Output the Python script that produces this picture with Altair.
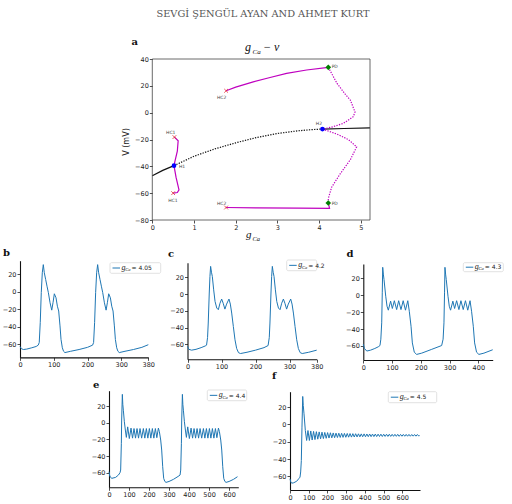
import altair as alt
import pandas as pd

W, H = 512, 504
BLUE = "#1f77b4"
MAG = "#bf00bf"

HEADER = "SEVGİ ŞENGÜL AYAN AND AHMET KURT"

# ---------------- panel a : bifurcation diagram (g_Ca, V) ----------------
a_black_solid1 = [(0, -47), (0.25, -43), (0.52, -39.5)]
a_black_dotted = [(0.52, -39.5), (1.0, -32.5), (1.5, -27), (2.0, -22.5), (2.5, -18.5),
                  (3.0, -15.5), (3.5, -13.5), (3.8, -12.7), (4.08, -12.2)]
a_black_solid2 = [(4.08, -12.2), (4.6, -11.8), (5.22, -11.3)]
a_mag_upper = [(1.77, 16.3), (2.0, 19), (2.42, 23), (2.8, 26), (3.22, 29.3), (3.7, 31.8), (4.22, 33.8)]
a_mag_dot_up = [(4.22, 33.8), (4.43, 21.8), (4.62, 14), (4.75, 9.3), (4.86, 0.5), (4.82, -3),
                (4.58, -8), (4.3, -10.8), (4.08, -12.2)]
a_mag_dot_low = [(4.08, -12.2), (4.43, -16), (4.7, -20), (4.9, -25.5), (4.75, -35), (4.5, -45.8),
                 (4.3, -55.6), (4.22, -64), (4.22, -67.3)]
a_mag_lower = [(4.22, -67.3), (4.25, -71.4), (3.5, -71.2), (2.5, -71.0), (1.77, -70.7)]
a_mag_left = [(0.53, -18.2), (0.62, -20.9), (0.6, -28.7), (0.545, -36), (0.52, -39.5),
              (0.57, -48.3), (0.64, -57.5), (0.6, -59.5), (0.5, -60)]
a_blue_pts = [(0.52, -39.5), (4.08, -12.2)]
a_green_pts = [(4.22, 33.8), (4.22, -67.3)]
a_red_pts = [(1.77, 16.3), (1.77, -70.7), (0.53, -18.2), (0.5, -60)]
a_labels = [("H1", 0.64, -40.5), ("H2", 3.92, -8.2), ("PD", 4.3, 34.3), ("PD", 4.3, -67.8),
            ("HC2", 1.55, 11.0), ("HC2", 1.55, -67.8), ("HC1", 0.33, -15.5), ("HC1", 0.38, -65.5)]

# ---------------- panels b-f : time series ----------------
b_pts = [(0, -62.5), (4, -65), (10, -66), (20, -65.5), (35, -64), (48, -62.5), (54, -61), (57, -58),
         (60, -35), (63, -1), (66, 21.7), (69, 31), (72, 21.7), (76, 14), (80, 6.4), (84, -1),
         (89, -12.6), (94, -21), (98, -12), (101.7, -2.3), (106.7, -6.9), (110.7, -16.5),
         (114.6, -22), (118.5, -39), (121.5, -54.5), (125.4, -64), (129, -68), (133, -69.5),
         (150, -68), (175, -66), (200, -63.5), (215, -61),
         (218, -58), (221, -35), (224, -1), (227, 21.7), (230, 31), (233, 21.7), (237, 14),
         (241, 6.4), (245, -1), (250, -12.6), (255, -21), (259, -12), (262.7, -2.3),
         (267.7, -6.9), (271.7, -16.5), (275.6, -22), (279.5, -39), (282.5, -54.5),
         (286.4, -64), (290, -68), (294, -69.5), (311, -68), (336, -66), (361, -63.5), (380, -60.5)]

c_pts = [(0, -62.5), (4, -66), (12, -67), (25, -66), (40, -64), (52, -62), (56, -61), (59, -52),
         (61, -34.6), (64, 1.2), (66, 21), (68, 33), (70.5, 26), (73, 21), (77, 5), (81, -8.8),
         (86, -16.7), (90.7, -18.7), (95.5, -11), (100.5, -6), (105, -11), (110, -18), (115, -12),
         (122, -6), (126, -12), (130, -22.7), (134.8, -38.7), (139.7, -54.6), (144.6, -65),
         (150, -70), (156, -71), (175, -69.5), (200, -67), (225, -64), (237, -61.5),
         (240.5, -52), (242.5, -34.6), (245.5, 1.2), (247.5, 21), (249.5, 33), (252, 26),
         (254.5, 21), (258.5, 5), (262.5, -8.8), (267.5, -16.7), (272.2, -18.7), (277, -11),
         (282, -6), (286.5, -11), (291.5, -18), (296.5, -12), (303.5, -6), (307.5, -12),
         (311.5, -22.7), (316.3, -38.7), (321.2, -54.6), (326.1, -65), (331.5, -70),
         (337.5, -71), (356.5, -69.5), (380, -67)]

d_pts = [(0, -58), (4, -63), (12, -66), (25, -65), (40, -63), (52, -61), (58, -59.5), (61, -52),
         (64, -32.7), (66, 2.8), (67.5, 33), (70, 24), (72, 18.6), (78, -1.2), (82.5, -13),
         (87, -17.7), (95, -7), (101, -15.7), (108, -6.5), (116, -17), (123, -6.5), (131, -17),
         (138.7, -6.5), (146.7, -17.7), (154.7, -6.5), (160, -19), (166, -36.7), (170.6, -56.4),
         (177.4, -67.4), (185.5, -70), (203, -68.5), (238, -64), (272.5, -59.5),
         (277.5, -52), (280.5, -32.7), (282.5, 2.8), (284, 33), (286.5, 24), (288.5, 18.6),
         (294.5, -1.2), (299, -13), (303.5, -17.7), (311.5, -7), (317.5, -15.7), (324.5, -6.5),
         (332.5, -17), (339.5, -6.5), (347.5, -17), (355.2, -6.5), (363.2, -17.7), (371.2, -6.5),
         (376.5, -19), (382.5, -36.7), (387.1, -56.4), (393.9, -67.4), (402, -70),
         (419.5, -68.5), (450, -64.5)]

e_pts = [(0, -58.8), (4, -64), (13, -66.8), (33, -65.6), (47, -62.8), (55, -60), (58.3, -56.8),
         (61.7, -24.7), (63.3, 3.2), (66.7, 34), (69, 22), (71.7, 15), (76.7, 1.2), (81.7, -8.8),
         (86.7, -17.6), (93.3, -5), (101.5, -19), (110, -6.5), (117.5, -18.5), (125, -7),
         (132.5, -18.5), (140, -7), (147.5, -18.5), (155, -7), (163, -18.5), (171.7, -7),
         (179, -18.5), (186.7, -7), (194, -18.5), (201.7, -7), (209, -18.5), (216.7, -7),
         (224, -18.5), (231.7, -7), (239, -18), (246.7, -6.5), (251.7, -10.8), (258.3, -20.8),
         (263.3, -32.8), (268.3, -52.8), (273.3, -66.8), (279, -70.5), (285, -71.6), (300, -70.5),
         (321.7, -68), (345, -64.5), (355, -62.8),
         (358.3, -56.8), (361.7, -24.7), (363.3, 3.2), (366.7, 34), (369, 22), (371.7, 15),
         (376.7, 1.2), (381.7, -8.8), (386.7, -17.6), (393.3, -5), (401.5, -19), (410, -6.5),
         (417.5, -18.5), (425, -7), (432.5, -18.5), (440, -7), (447.5, -18.5), (455, -7),
         (463, -18.5), (471.7, -7), (479, -18.5), (486.7, -7), (494, -18.5), (501.7, -7),
         (509, -18.5), (516.7, -7), (524, -18.5), (531.7, -7), (539, -18), (546.7, -6.5),
         (551.7, -10.8), (558.3, -20.8), (563.3, -32.8), (568.3, -52.8), (573.3, -66.8),
         (579, -70.5), (585, -71.6), (600, -70.5), (621.7, -68), (642, -64.8)]

f_pts = [(0, -63), (4, -66.5), (9, -68), (20, -67.5), (36, -65.7), (48, -62.5), (53.5, -61),
         (57, -55), (60.6, -41.7), (64, -3.1), (68, 32.5), (71, 22), (74.9, 12.4), (82, -7),
         (89, -18.5), (96, -7), (103.5, -18.5), (111, -7.5), (118.5, -18), (126, -8),
         (133.5, -17.5), (141, -8.3), (148.5, -17), (156, -8.6), (163.5, -16.6), (171, -8.9),
         (178.5, -16.3), (186, -9.2), (193.5, -16), (201, -9.4), (208.5, -15.7), (216, -9.6),
         (223.5, -15.5), (231, -9.8), (238.5, -15.3), (246, -10), (253.5, -15.1), (261, -10.1),
         (268.5, -15), (276, -10.2), (283.5, -14.9), (291, -10.3), (298.5, -14.8), (306, -10.4),
         (313.5, -14.7), (321, -10.5), (328.5, -14.6), (336, -10.6), (343.5, -14.5), (351, -10.7),
         (358.5, -14.4), (366, -10.8), (373.5, -14.3), (381, -10.9), (388.5, -14.2), (396, -10.9),
         (403.5, -14.2), (411, -11), (418.5, -14.1), (426, -11), (433.5, -14.1), (441, -11.1),
         (448.5, -14), (456, -11.1), (463.5, -14), (471, -11.2), (478.5, -13.9), (486, -11.2),
         (493.5, -13.9), (501, -11.3), (508.5, -13.8), (516, -11.3), (523.5, -13.8), (531, -11.3),
         (538.5, -13.8), (546, -11.4), (553.5, -13.7), (561, -11.4), (568.5, -13.7), (576, -11.4),
         (583.5, -13.7), (591, -11.5), (598.5, -13.6), (606, -11.5), (613.5, -13.6), (621, -11.5),
         (628.5, -13.6), (636, -11.5), (643.5, -13.6), (651, -11.6), (658.5, -13.5), (666, -11.6),
         (673.5, -13.5), (681, -11.6), (688.5, -13.5), (692, -12.5)]

legend_values = ["4.05", "4.2", "4.3", "4.4", "4.5"]
ts_xticks_short = [0, 100, 200, 300, 380]
ts_xticks_d = [0, 100, 200, 300, 400]
ts_xticks_long = [0, 100, 200, 300, 400, 500, 600]
ts_yticks = [-60, -40, -20, 0, 20]
a_xticks = [0, 1, 2, 3, 4, 5]
a_yticks = [-80, -60, -40, -20, 0, 20, 40]

ONE = alt.Data(values=[{"k": 0}])


def frame(pts, xn, yn):
    return pd.DataFrame({"i": list(range(len(pts))),
                         xn: [p[0] for p in pts], yn: [p[1] for p in pts]})


def txt(s, x, y, size, font="DejaVu Sans", style="normal", weight="normal",
        color="#222", align="left", angle=0, baseline="alphabetic"):
    return alt.Chart(ONE).mark_text(
        text=s, fontSize=size, font=font, fontStyle=style, fontWeight=weight,
        color=color, align=align, baseline=baseline, angle=angle
    ).encode(x=alt.value(x), y=alt.value(y))


# ---------- panel a ----------
AX = dict(domain=[0, 5.22], range=[152.3, 370])
AY = dict(domain=[-80, 40], range=[220, 59])


def a_enc():
    ax_x = alt.Axis(orient="bottom", offset=AY["range"][0] - H, values=a_xticks, title=None,
                    labelFontSize=6.5, tickSize=3, labelPadding=1, domain=False,
                    labelFlush=False, labelOverlap=False, format="d")
    ax_y = alt.Axis(orient="left", offset=-AX["range"][0], values=a_yticks, title=None,
                    labelFontSize=6.5, tickSize=3, labelPadding=1, domain=False,
                    labelOverlap=False, format="d")
    return dict(
        x=alt.X("g:Q", scale=alt.Scale(domain=AX["domain"], range=AX["range"], nice=False, zero=False), axis=ax_x),
        y=alt.Y("v:Q", scale=alt.Scale(domain=AY["domain"], range=AY["range"], nice=False, zero=False), axis=ax_y),
    )


def a_line(pts, color, dash=None, width=1.2):
    kw = dict(color=color, strokeWidth=width)
    if dash:
        kw["strokeDash"] = dash
    return alt.Chart(frame(pts, "g", "v")).mark_line(**kw).encode(order="i:Q", **a_enc())


lbl_df = pd.DataFrame({"lab": [l[0] for l in a_labels], "g": [l[1] for l in a_labels],
                       "v": [l[2] for l in a_labels]})

panel_a = alt.layer(
    a_line(a_black_solid1, "#111"),
    a_line(a_black_dotted, "#111", dash=[1.3, 1.3]),
    a_line(a_black_solid2, "#111"),
    a_line(a_mag_upper, MAG),
    a_line(a_mag_dot_up, MAG, dash=[1.3, 1.3]),
    a_line(a_mag_dot_low, MAG, dash=[1.3, 1.3]),
    a_line(a_mag_lower, MAG),
    a_line(a_mag_left, MAG),
    alt.Chart(frame(a_blue_pts, "g", "v")).mark_point(shape="circle", filled=True, color="#0000ff",
                                                       size=22, opacity=1).encode(**a_enc()),
    alt.Chart(frame(a_green_pts, "g", "v")).mark_point(shape="diamond", filled=True, color="#008000",
                                                        size=32, opacity=1).encode(**a_enc()),
    alt.Chart(frame(a_red_pts, "g", "v")).mark_point(shape="M-1,-1L1,1M-1,1L1,-1", filled=False,
                                                      color="#e0303a", size=14, strokeWidth=0.8,
                                                      opacity=1).encode(**a_enc()),
    alt.Chart(lbl_df).mark_text(fontSize=4.5, color="#444", align="left", baseline="middle",
                                font="DejaVu Sans").encode(text="lab:N", **a_enc()),
)

a_frame = alt.Chart(ONE).mark_rect(fillOpacity=0, stroke="#444", strokeWidth=0.8).encode(
    x=alt.value(AX["range"][0]), x2=alt.value(AX["range"][1]),
    y=alt.value(AY["range"][1]), y2=alt.value(AY["range"][0]))


# ---------- time-series panels ----------
def ts_panel(pts, xdom, xr, ydom, yr, xticks):
    x = alt.X("t:Q", scale=alt.Scale(domain=xdom, range=xr, nice=False, zero=False),
              axis=alt.Axis(orient="bottom", offset=yr[0] - H, values=xticks, title=None,
                            labelFontSize=6.5, tickSize=3, labelPadding=1, domainColor="#111",
                            domainWidth=1.1, labelFlush=False, labelOverlap=False, format="d"))
    y = alt.Y("v:Q", scale=alt.Scale(domain=ydom, range=yr, nice=False, zero=False),
              axis=alt.Axis(orient="left", offset=-xr[0], values=ts_yticks, title=None,
                            labelFontSize=6.5, tickSize=3, labelPadding=1, domainColor="#111",
                            domainWidth=1.1, labelOverlap=False, format="d"))
    return alt.Chart(frame(pts, "t", "v")).mark_line(color=BLUE, strokeWidth=1).encode(x=x, y=y)


def legend(x0, y0, x1, y1, value):
    ym = (y0 + y1) / 2
    return [
        alt.Chart(ONE).mark_rect(fill="white", stroke="#cfcfcf", strokeWidth=0.6, cornerRadius=1.5).encode(
            x=alt.value(x0), x2=alt.value(x1), y=alt.value(y0), y2=alt.value(y1)),
        alt.Chart(ONE).mark_rule(color=BLUE, strokeWidth=1).encode(
            x=alt.value(x0 + 2.5), x2=alt.value(x0 + 10), y=alt.value(ym)),
        txt("g", x0 + 11.5, ym + 1.8, 8, font="Liberation Serif", style="italic", color="#222"),
        txt("Ca", x0 + 15.3, ym + 3.2, 4.5, font="Liberation Serif", style="italic", color="#222"),
        txt("= " + value, x0 + 21.5, ym + 2.2, 6, color="#222"),
    ]


panel_b = ts_panel(b_pts, [0, 380], [20, 148.3], [-75, 35.5], [357.4, 260.7], ts_xticks_short)
panel_c = ts_panel(c_pts, [0, 380], [187.5, 316.7], [-77.9, 37.4], [359.3, 262.7], ts_xticks_short)
panel_d = ts_panel(d_pts, [0, 450], [363.3, 492.7], [-76.6, 36.9], [360, 264], ts_xticks_d)
panel_e = ts_panel(e_pts, [0, 646], [109, 238.3], [-77.5, 38.4], [487.3, 390.7], ts_xticks_long)
panel_f = ts_panel(f_pts, [0, 695], [290, 420], [-75.9, 38], [490, 391.7], ts_xticks_long)

annotations = [
    txt(HEADER, 263, 16.7, 9.8, font="DejaVu Serif", color="#555", align="center"),
    txt("a", 131.5, 45, 10, font="DejaVu Serif", weight="bold", color="#111"),
    txt("g", 245, 50.7, 12, font="Liberation Serif", style="italic", color="#111"),
    txt("Ca", 252.5, 54, 7, font="Liberation Serif", style="italic", color="#111"),
    txt("\u2212 v", 263, 50.7, 12, font="Liberation Serif", style="italic", color="#111"),
    txt("V (mV)", 126.5, 142, 8, color="#222", align="center", angle=270, baseline="middle"),
    txt("g", 246, 237.5, 11, font="Liberation Serif", style="italic", color="#111"),
    txt("Ca", 252.5, 241, 6.5, font="Liberation Serif", style="italic", color="#111"),
    txt("b", 3, 256, 10, font="DejaVu Serif", weight="bold", color="#111"),
    txt("c", 168, 257, 10, font="DejaVu Serif", weight="bold", color="#111"),
    txt("d", 346.5, 256.7, 10, font="DejaVu Serif", weight="bold", color="#111"),
    txt("e", 93, 387.5, 10, font="DejaVu Serif", weight="bold", color="#111"),
    txt("f", 272, 378.5, 10, font="DejaVu Serif", weight="bold", color="#111"),
]

legends = (legend(110, 262.7, 160.7, 273.3, legend_values[0])
           + legend(286.7, 260, 316.7, 270.7, legend_values[1])
           + legend(463.3, 262.7, 503.3, 271.7, legend_values[2])
           + legend(207.3, 390, 246.7, 400.7, legend_values[3])
           + legend(388.3, 391.7, 436.7, 402.7, legend_values[4]))

chart = alt.layer(
    panel_a, a_frame, panel_b, panel_c, panel_d, panel_e, panel_f, *annotations, *legends
).resolve_scale(x="independent", y="independent").properties(
    width=W, height=H, padding=0, autosize=alt.AutoSizeParams(type="none"), background="white"
).configure_view(stroke=None).configure_axis(
    grid=False, labelColor="#222", tickColor="#222", labelFont="DejaVu Sans", tickWidth=0.8
)

chart.save("out.html", embed_options={"renderer": "svg", "actions": False})
